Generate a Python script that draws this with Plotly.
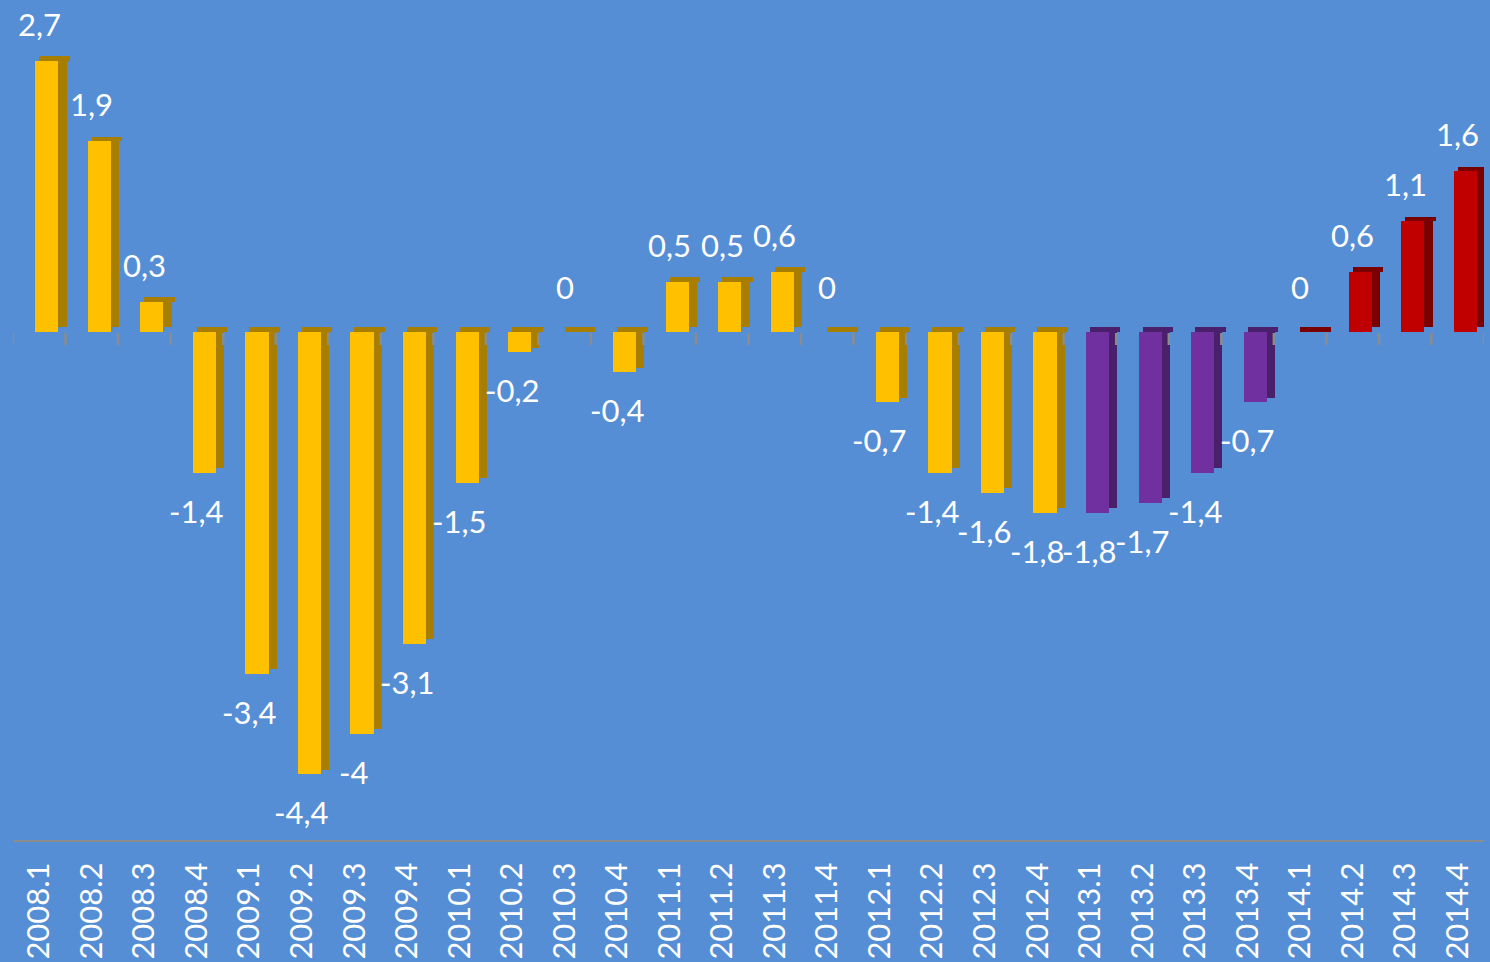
import plotly.graph_objects as go

# ---- data ----
periods = ["2008.1", "2008.2", "2008.3", "2008.4",
           "2009.1", "2009.2", "2009.3", "2009.4",
           "2010.1", "2010.2", "2010.3", "2010.4",
           "2011.1", "2011.2", "2011.3", "2011.4",
           "2012.1", "2012.2", "2012.3", "2012.4",
           "2013.1", "2013.2", "2013.3", "2013.4",
           "2014.1", "2014.2", "2014.3", "2014.4"]
values = [2.7, 1.9, 0.3, -1.4,
          -3.4, -4.4, -4.0, -3.1,
          -1.5, -0.2, 0.0, -0.4,
          0.5, 0.5, 0.6, 0.0,
          -0.7, -1.4, -1.6, -1.8,
          -1.8, -1.7, -1.4, -0.7,
          0.0, 0.6, 1.1, 1.6]
groups = ["a"] * 20 + ["b"] * 4 + ["c"] * 4

# ---- styles ----
front_colors = {"a": "#FFC000", "b": "#7030A0", "c": "#C00000"}
side_colors = {"a": "#A87E00", "b": "#4A1F6C", "c": "#7A0000"}
BG = "#558ED5"
FONT = "Lato"
DEPTH = 0.045  # 3D depth in value units

front = [front_colors[g] for g in groups]
side = [side_colors[g] for g in groups]

def fmt(v):
    s = f"{v:g}"
    return s.replace(".", ",")

fig = go.Figure()

# side face
fig.add_trace(go.Bar(x=periods, y=values, base=DEPTH, marker=dict(color=side, line=dict(width=0)),
                     width=0.16, offset=0.36, hoverinfo="skip", showlegend=False))
# top face
fig.add_trace(go.Bar(x=periods, y=[DEPTH] * len(values), base=[max(v, 0) for v in values],
                     marker=dict(color=side, line=dict(width=0)),
                     width=0.58, offset=-0.0, hoverinfo="skip", showlegend=False))
# front face
fig.add_trace(go.Bar(x=periods, y=values, marker=dict(color=front, line=dict(width=0)),
                     width=0.44, offset=-0.076, showlegend=False))

# data labels (x as category index)
for i, v in enumerate(values):
    if v > 0:
        shift = 37
    elif v == 0:
        shift = 45
    else:
        shift = -38
    fig.add_annotation(x=i, y=v, xref="x", yref="y", text=fmt(v), showarrow=False, yshift=shift,
                       font=dict(family=FONT, size=31, color="white"))

# small gray ticks on the zero line at category boundaries
for i in range(len(periods) + 1):
    fig.add_shape(type="line", xref="x", yref="y", x0=i - 0.5, x1=i - 0.5,
                  ysizemode="pixel", yanchor=0, y0=-1, y1=-13,
                  line=dict(color="#8C8C8C", width=2.5))

fig.update_layout(
    width=1490, height=962,
    paper_bgcolor=BG, plot_bgcolor=BG,
    margin=dict(l=13, r=6, t=0, b=122),
    barmode="overlay",
    bargap=0,
    font=dict(family=FONT, color="white"),
)
fig.update_xaxes(type="category", range=[-0.5, len(periods) - 0.5],
                 tickangle=-90, tickfont=dict(family=FONT, size=31, color="white"),
                 showline=True, linecolor="#8C8C8C", linewidth=2,
                 showgrid=False, zeroline=False, ticks="", ticklabelstandoff=8)
fig.update_yaxes(visible=False, range=[-(840 - 332) / 100.5, 332 / 100.5], fixedrange=True)

fig.write_html("out.html", config={"displayModeBar": False},
               post_script="document.body.style.margin='0';document.body.style.overflow='hidden';")
